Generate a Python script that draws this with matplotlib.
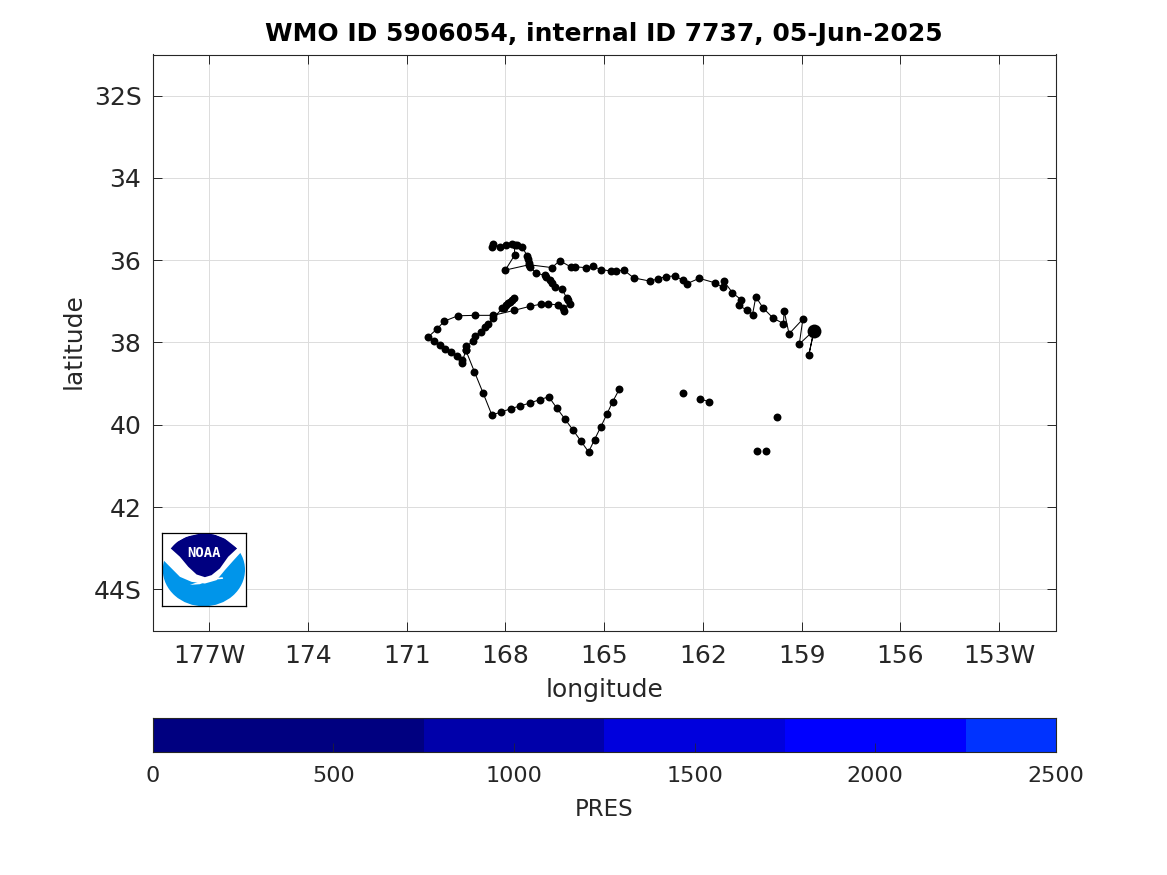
import numpy as np
import matplotlib
matplotlib.use("Agg")
import matplotlib.pyplot as plt
from matplotlib.patches import Ellipse, Polygon
from matplotlib.colors import ListedColormap, BoundaryNorm

W, H = 1167, 875
nan = float('nan')

# Float track: degrees west / degrees south; nan breaks the line
lon_w = [
    167.74, 167.81, 167.87, 167.93, 167.99, 168.05, 168.09, 168.36, 168.53, 168.63,
    168.75, 168.91, 168.98, 169.19, 169.20, nan,
    160.36, nan, 160.08, nan, 159.75, nan, 161.81, 162.09, nan, 162.60, nan,
    164.54, 164.74, 164.92, 165.10, 165.29, 165.47, 165.71, 165.95, 166.20, 166.44,
    166.68, 166.96, 167.25, 167.54, 167.84, 168.12, 168.41, 168.68, 168.94, 169.20,
    169.32, 169.32, 169.47, 169.64, 169.82, 169.99, 170.18, 170.35, 170.09, 169.85,
    169.44, 168.91, 168.36, 167.74, 167.25, 166.93, 166.69, 166.40, 166.23, 166.26,
    166.04, 166.09, 166.14, 166.28, 166.48, 166.58, 166.65, 166.75, 166.81, 167.06,
    167.26, 167.29, 167.31, 167.33, 167.49, 167.65, 167.81, 167.99, 168.16, 168.38,
    168.41, 167.72, 167.72, 168.00, 167.28, 166.58, 166.35, 166.02, 165.89, 165.56,
    165.33, 165.10, 164.78, 164.64, 164.40, 164.10, 163.59, 163.37, 163.12, 162.85,
    162.60, 162.48, 162.11, 161.63, 161.39, 161.36, 161.10, 160.84, 160.90, 160.65,
    160.49, 160.39, 160.17, 159.86, 159.55, 159.53, 159.38, 158.96, 159.07, 158.62,
    158.78, 158.62,
]
lat_s = [
    36.92, 36.97, 37.02, 37.05, 37.10, 37.15, 37.17, 37.40, 37.56, 37.62,
    37.75, 37.83, 37.97, 38.09, 38.19, nan,
    40.63, nan, 40.63, nan, 39.82, nan, 39.44, 39.37, nan, 39.23, nan,
    39.14, 39.44, 39.75, 40.05, 40.36, 40.66, 40.39, 40.12, 39.85, 39.59,
    39.32, 39.39, 39.47, 39.54, 39.61, 39.69, 39.76, 39.22, 38.71, 38.19,
    38.50, 38.43, 38.32, 38.24, 38.15, 38.06, 37.97, 37.87, 37.68, 37.48,
    37.35, 37.34, 37.34, 37.22, 37.12, 37.07, 37.07, 37.08, 37.24, 37.17,
    37.07, 36.97, 36.91, 36.70, 36.66, 36.55, 36.47, 36.40, 36.37, 36.31,
    36.16, 36.06, 35.98, 35.90, 35.68, 35.64, 35.61, 35.64, 35.68, 35.61,
    35.68, 35.64, 35.88, 36.24, 36.11, 36.18, 36.01, 36.16, 36.16, 36.18,
    36.15, 36.23, 36.26, 36.26, 36.24, 36.43, 36.51, 36.45, 36.40, 36.38,
    36.49, 36.57, 36.44, 36.55, 36.66, 36.51, 36.79, 36.96, 37.10, 37.22,
    37.32, 36.89, 37.16, 37.41, 37.54, 37.23, 37.79, 37.43, 38.04, 37.70,
    38.30, 37.70,
]
last_lon_w, last_lat_s = 158.62, 37.72

lon_ticks = [177, 174, 171, 168, 165, 162, 159, 156, 153]
lon_labels = ['177W', '174', '171', '168', '165', '162', '159', '156', '153W']
lat_ticks = [32, 34, 36, 38, 40, 42, 44]
lat_labels = ['32S', '34', '36', '38', '40', '42', '44S']

pres_bounds = [0, 750, 1250, 1750, 2250, 2500]
pres_colors = ['#000080', '#0000aa', '#0000dd', '#0000ff', '#0033ff']
pres_ticks = [0, 500, 1000, 1500, 2000, 2500]

TXT = '#262626'
EDGE = '#262626'
GRID = '#dcdcdc'


def rect(x0, y0, x1, y1):
    return [x0 / W, 1 - y1 / H, (x1 - x0) / W, (y1 - y0) / H]


plt.rcParams['font.family'] = 'DejaVu Sans'
fig = plt.figure(figsize=(W / 100, H / 100), dpi=100, facecolor='white')

ax = fig.add_axes(rect(152.5, 54.5, 1056, 630.5))
ax.plot(-np.array(lon_w), -np.array(lat_s), '-', color='k', lw=0.75,
        marker='o', ms=5.7, mec='k', mfc='k', mew=0, zorder=3)
ax.plot([-last_lon_w], [-last_lat_s], 'o', color='k', ms=10, mew=0, zorder=4)
ax.set_xlim(-178.72, -151.27)
ax.set_ylim(-45, -31)
ax.set_xticks([-v for v in lon_ticks])
ax.set_xticklabels(lon_labels)
ax.set_yticks([-v for v in lat_ticks])
ax.set_yticklabels(lat_labels)
ax.grid(True, color=GRID, lw=0.7)
ax.set_axisbelow(True)
ax.tick_params(direction='in', length=6.5, width=0.7, top=True, right=True,
               color=EDGE, labelcolor=TXT, labelsize=18, pad=10)
ax.tick_params(axis='y', pad=8)
for s in ax.spines.values():
    s.set_color(EDGE)
    s.set_linewidth(0.8)
ax.set_xlabel('longitude', fontsize=18, color=TXT, labelpad=7)
ax.set_ylabel('latitude', fontsize=18, color=TXT, labelpad=5.5, y=0.503)
ax.set_title('WMO ID 5906054, internal ID 7737, 05-Jun-2025',
             fontsize=18, fontweight='bold', color='k', pad=10)

# Colorbar
cax = fig.add_axes(rect(152.5, 718, 1056, 752))
cmap = ListedColormap(pres_colors)
norm = BoundaryNorm(pres_bounds, cmap.N)
cax.pcolormesh(pres_bounds, [0, 1], np.array([pres_bounds[:-1]]) + 1, cmap=cmap, norm=norm)
cax.set_xlim(0, 2500)
cax.set_ylim(0, 1)
cax.set_yticks([])
cax.set_xticks(pres_ticks)
cax.tick_params(direction='in', length=6.5, width=0.5, color=EDGE, labelcolor=TXT,
                labelsize=16, pad=10)
for s in cax.spines.values():
    s.set_color(EDGE)
    s.set_linewidth(0.8)
cax.set_xlabel('PRES', fontsize=16.5, color=TXT, labelpad=9)

# NOAA logo
lg = fig.add_axes(rect(162.3, 533.3, 245.5, 606.3), zorder=5)
lg.set_xlim(37, 287)
lg.set_ylim(258, 40)
lg.set_xticks([])
lg.set_yticks([])
lg.set_facecolor('white')
for s in lg.spines.values():
    s.set_color('k')
    s.set_linewidth(0.9)
disc = Ellipse((162, 149), 247, 218, transform=lg.transData, fc='none', ec='none')
lg.add_patch(disc)
light = Polygon([(38, 118), (60, 140), (90, 170), (125, 185), (165, 190), (200, 180),
                 (225, 150), (250, 122), (272, 98), (287, 120), (287, 258), (37, 258)],
                closed=True, fc='#0095ea', ec='none', zorder=2)
lg.add_patch(light)
light.set_clip_path(disc)
navy = Polygon([(62, 85), (80, 65), (110, 50), (150, 41), (190, 42), (225, 56), (262, 85),
                (235, 110), (210, 145), (185, 165), (165, 171), (140, 163), (115, 140),
                (90, 110)], closed=True, fc='#000080', ec='none', zorder=3)
lg.add_patch(navy)
navy.set_clip_path(disc)
swoosh = Polygon([(120, 194), (165, 178), (218, 171), (220, 176), (178, 180), (150, 192)],
                 closed=True, fc='white', ec='none', zorder=4)
lg.add_patch(swoosh)
lg.text(162, 98, 'NOAA', color='white', fontsize=10, fontweight='bold',
        family='DejaVu Sans Mono', ha='center', va='center', zorder=5)

fig.savefig('out.png', dpi=100, facecolor='white')
